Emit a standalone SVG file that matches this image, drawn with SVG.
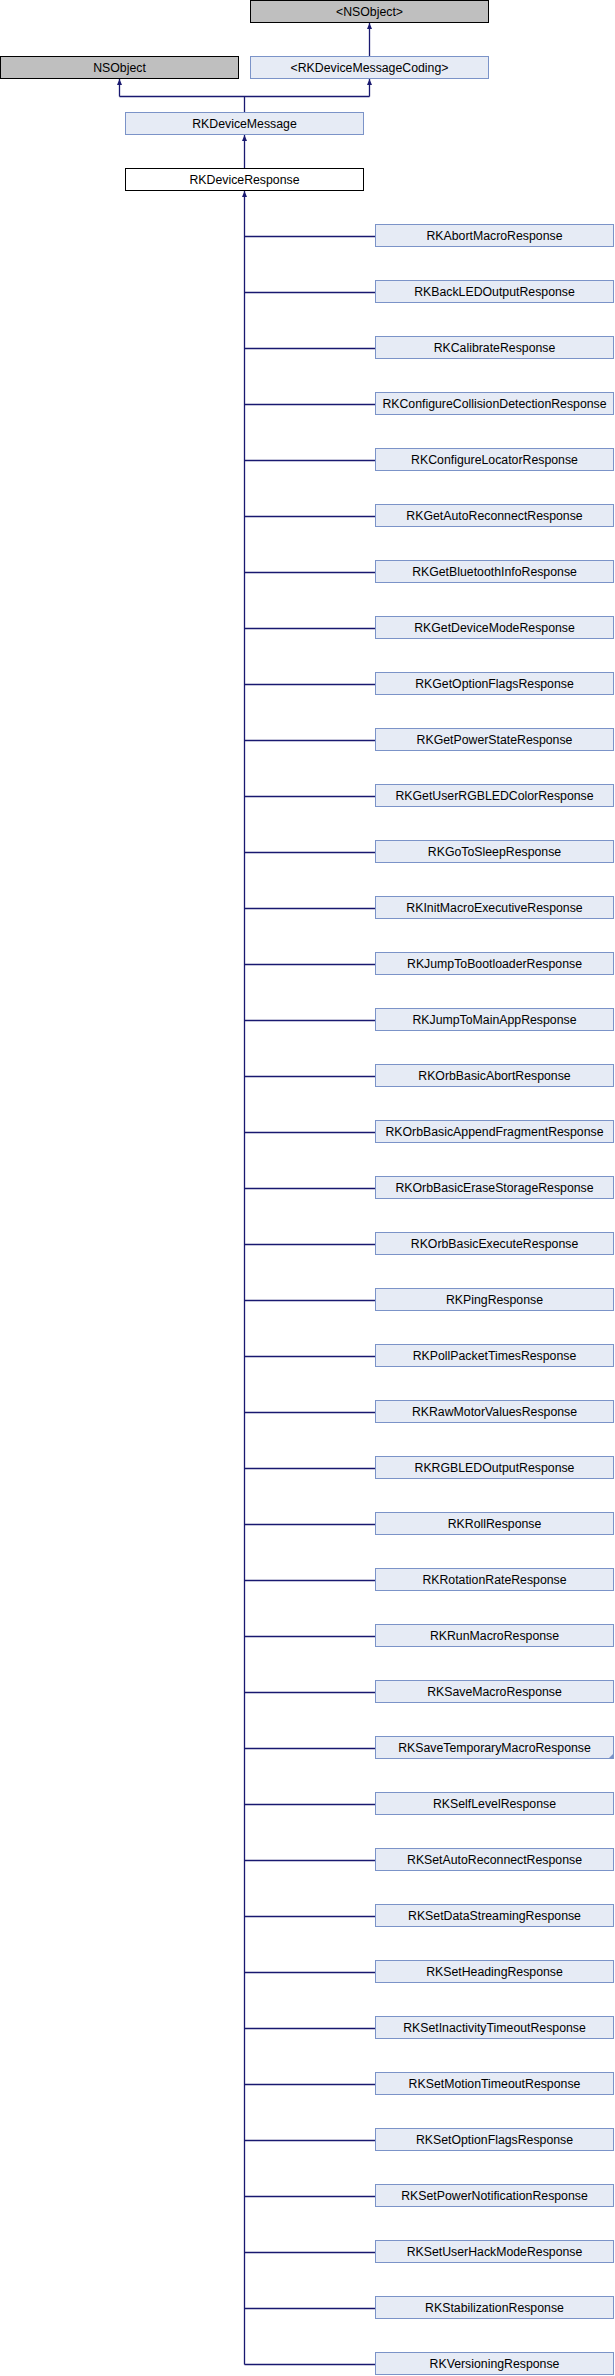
<svg xmlns="http://www.w3.org/2000/svg" xmlns:xlink="http://www.w3.org/1999/xlink" width="615" height="2376" viewBox="0 0 615 2376">
<style>
text{font-family:"Liberation Sans",Arial,sans-serif;font-size:12.3px;text-anchor:middle;fill:#000}
.g{fill:#bfbfbf;stroke:#000;stroke-width:1}
.w{fill:#fff;stroke:#000;stroke-width:1}
.c{fill:#e6ebf5;stroke:#7b93c8;stroke-width:1}
.e{fill:none;stroke:#191970;stroke-width:1.3}
.ah{fill:#191970}
.fold{fill:#7b93c8}
</style>
<defs>
<path id="ah" d="M0,0 L-2.5,6 L2.5,6 Z"/>
</defs>
<rect width="615" height="2376" fill="#fff"/>
<g id="connectors">
<path class="e" d="M369.5,56 V23"/>
<path class="e" d="M244.5,112 V96.5 M119.5,96.5 H369.5 M119.5,96.5 V79 M369.5,96.5 V79"/>
<path class="e" d="M244.5,168 V135"/>
<path class="e" d="M244.5,191 V2364.5"/>
<path class="e" d="M244.5,236.5H375 M244.5,292.5H375 M244.5,348.5H375 M244.5,404.5H375 M244.5,460.5H375 M244.5,516.5H375 M244.5,572.5H375 M244.5,628.5H375 M244.5,684.5H375 M244.5,740.5H375 M244.5,796.5H375 M244.5,852.5H375 M244.5,908.5H375 M244.5,964.5H375 M244.5,1020.5H375 M244.5,1076.5H375 M244.5,1132.5H375 M244.5,1188.5H375 M244.5,1244.5H375 M244.5,1300.5H375 M244.5,1356.5H375 M244.5,1412.5H375 M244.5,1468.5H375 M244.5,1524.5H375 M244.5,1580.5H375 M244.5,1636.5H375 M244.5,1692.5H375 M244.5,1748.5H375 M244.5,1804.5H375 M244.5,1860.5H375 M244.5,1916.5H375 M244.5,1972.5H375 M244.5,2028.5H375 M244.5,2084.5H375 M244.5,2140.5H375 M244.5,2196.5H375 M244.5,2252.5H375 M244.5,2308.5H375 M244.5,2364.5H375"/>
<use href="#ah" xlink:href="#ah" class="ah" x="369.5" y="23"/>
<use href="#ah" xlink:href="#ah" class="ah" x="119.5" y="79"/>
<use href="#ah" xlink:href="#ah" class="ah" x="369.5" y="79"/>
<use href="#ah" xlink:href="#ah" class="ah" x="244.5" y="135"/>
<use href="#ah" xlink:href="#ah" class="ah" x="244.5" y="191"/>
</g>
<g id="NSObjectProtocol"><rect class="g" x="250.5" y="0.5" width="238" height="22"/><text x="369.5" y="15.5">&lt;NSObject&gt;</text></g>
<g id="NSObject"><rect class="g" x="0.5" y="56.5" width="238" height="22"/><text x="119.5" y="71.5">NSObject</text></g>
<g id="RKDeviceMessageCoding"><rect class="c" x="250.5" y="56.5" width="238" height="22"/><text x="369.5" y="71.5">&lt;RKDeviceMessageCoding&gt;</text></g>
<g id="RKDeviceMessage"><rect class="c" x="125.5" y="112.5" width="238" height="22"/><text x="244.5" y="127.5">RKDeviceMessage</text></g>
<g id="RKDeviceResponse"><rect class="w" x="125.5" y="168.5" width="238" height="22"/><text x="244.5" y="183.5">RKDeviceResponse</text></g>
<g id="RKAbortMacroResponse"><rect class="c" x="375.5" y="224.5" width="238" height="22"/><text x="494.5" y="239.5">RKAbortMacroResponse</text></g>
<g id="RKBackLEDOutputResponse"><rect class="c" x="375.5" y="280.5" width="238" height="22"/><text x="494.5" y="295.5">RKBackLEDOutputResponse</text></g>
<g id="RKCalibrateResponse"><rect class="c" x="375.5" y="336.5" width="238" height="22"/><text x="494.5" y="351.5">RKCalibrateResponse</text></g>
<g id="RKConfigureCollisionDetectionResponse"><rect class="c" x="375.5" y="392.5" width="238" height="22"/><text x="494.5" y="407.5">RKConfigureCollisionDetectionResponse</text></g>
<g id="RKConfigureLocatorResponse"><rect class="c" x="375.5" y="448.5" width="238" height="22"/><text x="494.5" y="463.5">RKConfigureLocatorResponse</text></g>
<g id="RKGetAutoReconnectResponse"><rect class="c" x="375.5" y="504.5" width="238" height="22"/><text x="494.5" y="519.5">RKGetAutoReconnectResponse</text></g>
<g id="RKGetBluetoothInfoResponse"><rect class="c" x="375.5" y="560.5" width="238" height="22"/><text x="494.5" y="575.5">RKGetBluetoothInfoResponse</text></g>
<g id="RKGetDeviceModeResponse"><rect class="c" x="375.5" y="616.5" width="238" height="22"/><text x="494.5" y="631.5">RKGetDeviceModeResponse</text></g>
<g id="RKGetOptionFlagsResponse"><rect class="c" x="375.5" y="672.5" width="238" height="22"/><text x="494.5" y="687.5">RKGetOptionFlagsResponse</text></g>
<g id="RKGetPowerStateResponse"><rect class="c" x="375.5" y="728.5" width="238" height="22"/><text x="494.5" y="743.5">RKGetPowerStateResponse</text></g>
<g id="RKGetUserRGBLEDColorResponse"><rect class="c" x="375.5" y="784.5" width="238" height="22"/><text x="494.5" y="799.5">RKGetUserRGBLEDColorResponse</text></g>
<g id="RKGoToSleepResponse"><rect class="c" x="375.5" y="840.5" width="238" height="22"/><text x="494.5" y="855.5">RKGoToSleepResponse</text></g>
<g id="RKInitMacroExecutiveResponse"><rect class="c" x="375.5" y="896.5" width="238" height="22"/><text x="494.5" y="911.5">RKInitMacroExecutiveResponse</text></g>
<g id="RKJumpToBootloaderResponse"><rect class="c" x="375.5" y="952.5" width="238" height="22"/><text x="494.5" y="967.5">RKJumpToBootloaderResponse</text></g>
<g id="RKJumpToMainAppResponse"><rect class="c" x="375.5" y="1008.5" width="238" height="22"/><text x="494.5" y="1023.5">RKJumpToMainAppResponse</text></g>
<g id="RKOrbBasicAbortResponse"><rect class="c" x="375.5" y="1064.5" width="238" height="22"/><text x="494.5" y="1079.5">RKOrbBasicAbortResponse</text></g>
<g id="RKOrbBasicAppendFragmentResponse"><rect class="c" x="375.5" y="1120.5" width="238" height="22"/><text x="494.5" y="1135.5">RKOrbBasicAppendFragmentResponse</text></g>
<g id="RKOrbBasicEraseStorageResponse"><rect class="c" x="375.5" y="1176.5" width="238" height="22"/><text x="494.5" y="1191.5">RKOrbBasicEraseStorageResponse</text></g>
<g id="RKOrbBasicExecuteResponse"><rect class="c" x="375.5" y="1232.5" width="238" height="22"/><text x="494.5" y="1247.5">RKOrbBasicExecuteResponse</text></g>
<g id="RKPingResponse"><rect class="c" x="375.5" y="1288.5" width="238" height="22"/><text x="494.5" y="1303.5">RKPingResponse</text></g>
<g id="RKPollPacketTimesResponse"><rect class="c" x="375.5" y="1344.5" width="238" height="22"/><text x="494.5" y="1359.5">RKPollPacketTimesResponse</text></g>
<g id="RKRawMotorValuesResponse"><rect class="c" x="375.5" y="1400.5" width="238" height="22"/><text x="494.5" y="1415.5">RKRawMotorValuesResponse</text></g>
<g id="RKRGBLEDOutputResponse"><rect class="c" x="375.5" y="1456.5" width="238" height="22"/><text x="494.5" y="1471.5">RKRGBLEDOutputResponse</text></g>
<g id="RKRollResponse"><rect class="c" x="375.5" y="1512.5" width="238" height="22"/><text x="494.5" y="1527.5">RKRollResponse</text></g>
<g id="RKRotationRateResponse"><rect class="c" x="375.5" y="1568.5" width="238" height="22"/><text x="494.5" y="1583.5">RKRotationRateResponse</text></g>
<g id="RKRunMacroResponse"><rect class="c" x="375.5" y="1624.5" width="238" height="22"/><text x="494.5" y="1639.5">RKRunMacroResponse</text></g>
<g id="RKSaveMacroResponse"><rect class="c" x="375.5" y="1680.5" width="238" height="22"/><text x="494.5" y="1695.5">RKSaveMacroResponse</text></g>
<g id="RKSaveTemporaryMacroResponse"><rect class="c" x="375.5" y="1736.5" width="238" height="22"/><path class="fold" d="M608,1759 L614,1759 L614,1753 Z"/><text x="494.5" y="1751.5">RKSaveTemporaryMacroResponse</text></g>
<g id="RKSelfLevelResponse"><rect class="c" x="375.5" y="1792.5" width="238" height="22"/><text x="494.5" y="1807.5">RKSelfLevelResponse</text></g>
<g id="RKSetAutoReconnectResponse"><rect class="c" x="375.5" y="1848.5" width="238" height="22"/><text x="494.5" y="1863.5">RKSetAutoReconnectResponse</text></g>
<g id="RKSetDataStreamingResponse"><rect class="c" x="375.5" y="1904.5" width="238" height="22"/><text x="494.5" y="1919.5">RKSetDataStreamingResponse</text></g>
<g id="RKSetHeadingResponse"><rect class="c" x="375.5" y="1960.5" width="238" height="22"/><text x="494.5" y="1975.5">RKSetHeadingResponse</text></g>
<g id="RKSetInactivityTimeoutResponse"><rect class="c" x="375.5" y="2016.5" width="238" height="22"/><text x="494.5" y="2031.5">RKSetInactivityTimeoutResponse</text></g>
<g id="RKSetMotionTimeoutResponse"><rect class="c" x="375.5" y="2072.5" width="238" height="22"/><text x="494.5" y="2087.5">RKSetMotionTimeoutResponse</text></g>
<g id="RKSetOptionFlagsResponse"><rect class="c" x="375.5" y="2128.5" width="238" height="22"/><text x="494.5" y="2143.5">RKSetOptionFlagsResponse</text></g>
<g id="RKSetPowerNotificationResponse"><rect class="c" x="375.5" y="2184.5" width="238" height="22"/><text x="494.5" y="2199.5">RKSetPowerNotificationResponse</text></g>
<g id="RKSetUserHackModeResponse"><rect class="c" x="375.5" y="2240.5" width="238" height="22"/><text x="494.5" y="2255.5">RKSetUserHackModeResponse</text></g>
<g id="RKStabilizationResponse"><rect class="c" x="375.5" y="2296.5" width="238" height="22"/><text x="494.5" y="2311.5">RKStabilizationResponse</text></g>
<g id="RKVersioningResponse"><rect class="c" x="375.5" y="2352.5" width="238" height="22"/><text x="494.5" y="2367.5">RKVersioningResponse</text></g>
</svg>
